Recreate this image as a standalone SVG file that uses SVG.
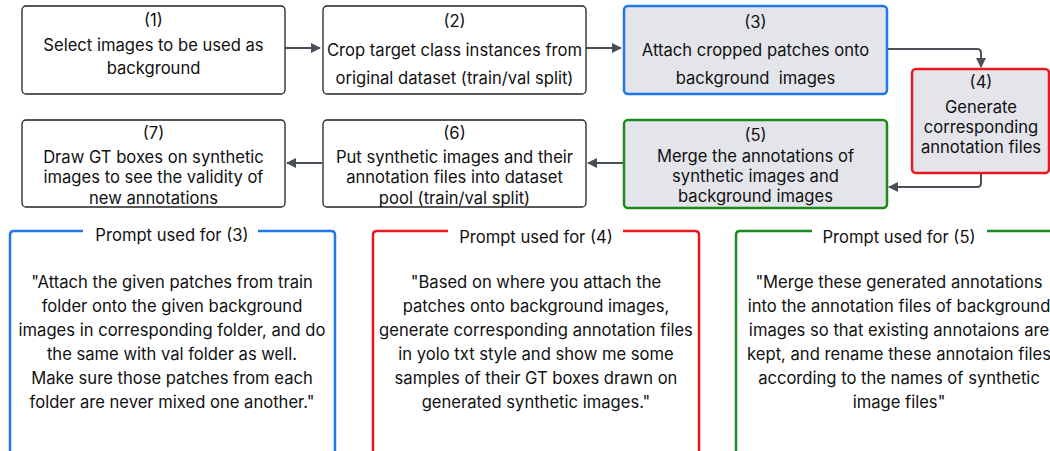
<svg xmlns="http://www.w3.org/2000/svg" width="1050" height="451" viewBox="0 0 1050 451">
<defs>
<style>
.n{fill:#fff;stroke:#222;stroke-width:1.3}
.g{fill:#e3e5ea}
.bl{stroke:#1f77e8;stroke-width:2.5}
.rd{stroke:#e8191e;stroke-width:2.5}
.gr{stroke:#1b8a1f;stroke-width:2.5}
text{font-family:Inter,"Liberation Sans",sans-serif;font-size:16.6px;fill:#111;text-anchor:middle;dominant-baseline:central}
.c{fill:none;stroke:#4a4f57;stroke-width:2}
.p{fill:none}
</style>
<marker id="ah" viewBox="0 0 10 10" refX="9" refY="5" markerWidth="5" markerHeight="5" orient="auto">
<path d="M0,0 L10,5 L0,10 z" fill="#4a4f57"/>
</marker>
</defs>
<g id="connectors">
<path class="c" d="M285,48 H320" marker-end="url(#ah)"/>
<path class="c" d="M586,48 H621" marker-end="url(#ah)"/>
<path class="c" d="M887,49 H977 Q981,49 981,53 V67" marker-end="url(#ah)"/>
<path class="c" d="M981,173 V183 Q981,187 977,187 H889" marker-end="url(#ah)"/>
<path class="c" d="M623,163 H588" marker-end="url(#ah)"/>
<path class="c" d="M322,163 H287" marker-end="url(#ah)"/>
</g>
<g id="n1">
<rect class="n" x="22" y="6" width="263" height="88" rx="4"/>
<text x="153.5" y="20">(1)</text>
<text x="153.5" y="45">Select images to be used as</text>
<text x="153.5" y="68">background</text>
</g>
<g id="n2">
<rect class="n" x="323" y="6" width="263" height="88" rx="4"/>
<text x="454.5" y="21">(2)</text>
<text x="454.5" y="50">Crop target class instances from</text>
<text x="454.5" y="78">original dataset (train/val split)</text>
</g>
<g id="n3">
<rect class="g bl" x="624" y="6" width="263" height="88" rx="4"/>
<text x="755.5" y="22">(3)</text>
<text x="755.5" y="50">Attach cropped patches onto</text>
<text x="755.5" y="78" style="white-space:pre">background  images</text>
</g>
<g id="n4">
<rect class="g rd" x="912" y="69" width="137" height="104" rx="4"/>
<text x="981" y="82">(4)</text>
<text x="981" y="107">Generate</text>
<text x="981" y="127">corresponding</text>
<text x="981" y="147">annotation files</text>
</g>
<g id="n5">
<rect class="g gr" x="624" y="120" width="263" height="88" rx="4"/>
<text x="755.5" y="135">(5)</text>
<text x="755.5" y="156">Merge the annotations of</text>
<text x="755.5" y="176">synthetic images and</text>
<text x="755.5" y="196">background images</text>
</g>
<g id="n6">
<rect class="n" x="323" y="120" width="263" height="87" rx="4"/>
<text x="454.5" y="133">(6)</text>
<text x="454.5" y="157">Put synthetic images and their</text>
<text x="454.5" y="177">annotation files into dataset</text>
<text x="454.5" y="198">pool (train/val split)</text>
</g>
<g id="n7">
<rect class="n" x="22" y="120" width="263" height="87" rx="4"/>
<text x="153.5" y="133">(7)</text>
<text x="153.5" y="157">Draw GT boxes on synthetic</text>
<text x="153.5" y="177">images to see the validity of</text>
<text x="153.5" y="198">new annotations</text>
</g>
<g id="promptA">
<path class="p bl" d="M83,231 H14 Q10,231 10,235 V460 M258,231 H331 Q335,231 335,235 V460"/>
<text x="172" y="235">Prompt used for (3)</text>
<text x="172" y="282">"Attach the given patches from train</text>
<text x="172" y="306">folder onto the given background</text>
<text x="172" y="330">images in corresponding folder, and do</text>
<text x="172" y="354">the same with val folder as well.</text>
<text x="172" y="378">Make sure those patches from each</text>
<text x="172" y="402">folder are never mixed one another."</text>
</g>
<g id="promptB">
<path class="p rd" d="M448,231 H377 Q373,231 373,235 V460 M623,231 H695 Q699,231 699,235 V460"/>
<text x="536" y="237">Prompt used for (4)</text>
<text x="536" y="282">"Based on where you attach the</text>
<text x="536" y="306">patches onto background images,</text>
<text x="536" y="330">generate corresponding annotation files</text>
<text x="536" y="354">in yolo txt style and show me some</text>
<text x="536" y="378">samples of their GT boxes drawn on</text>
<text x="536" y="402">generated synthetic images."</text>
</g>
<g id="promptC">
<path class="p gr" d="M812,231 H740 Q736,231 736,235 V460 M987,231 H1058 Q1062,231 1062,235 V460"/>
<text x="899" y="237">Prompt used for (5)</text>
<text x="899" y="282">"Merge these generated annotations</text>
<text x="899" y="306">into the annotation files of background</text>
<text x="899" y="330">images so that existing annotaions are</text>
<text x="899" y="354">kept, and rename these annotaion files</text>
<text x="899" y="378">according to the names of synthetic</text>
<text x="899" y="402">image files"</text>
</g>
</svg>
